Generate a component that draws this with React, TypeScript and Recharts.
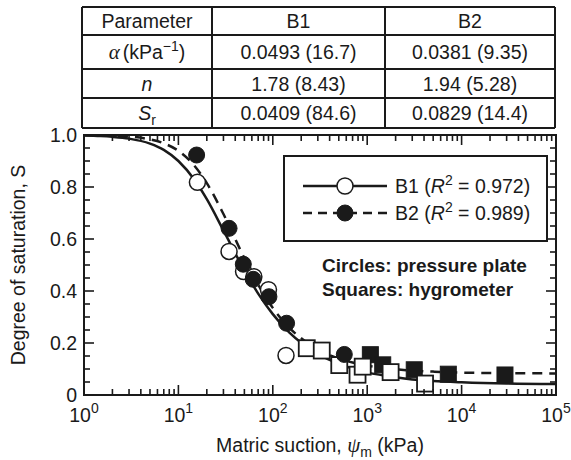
import { ComposedChart, Line, Scatter, XAxis, YAxis, ReferenceArea } from 'recharts';

// van Genuchten fits (psi in kPa -> S)
const curvePsi = [1, 1.5, 2, 3, 5, 7, 10, 15, 20, 30, 50, 70, 100, 150, 200, 300, 500, 700, 1000, 2000, 3000, 5000, 10000, 30000, 100000];
const b1CurveS = [0.998, 0.996, 0.993, 0.986, 0.967, 0.943, 0.9, 0.825, 0.753, 0.633, 0.479, 0.39, 0.311, 0.24, 0.201, 0.158, 0.12, 0.102, 0.087, 0.068, 0.06, 0.054, 0.049, 0.044, 0.042];
const b2CurveS = [0.999, 0.998, 0.997, 0.994, 0.983, 0.968, 0.939, 0.879, 0.815, 0.696, 0.526, 0.424, 0.335, 0.258, 0.218, 0.175, 0.14, 0.125, 0.113, 0.099, 0.094, 0.09, 0.086, 0.084, 0.083];

// pressure plate (circles)
const b1CirclePsi = [15.9, 34.4, 49, 63, 90, 138];
const b1CircleS = [0.818, 0.552, 0.475, 0.455, 0.405, 0.152];
const b2CirclePsi = [15.6, 34.4, 48.7, 62, 91, 140, 572];
const b2CircleS = [0.923, 0.641, 0.503, 0.445, 0.378, 0.276, 0.156];

// hygrometer (squares)
const b1SquarePsi = [229, 330, 506, 790, 896, 1770, 4100];
const b1SquareS = [0.18, 0.171, 0.115, 0.078, 0.109, 0.088, 0.044];
const b2SquarePsi = [1080, 1460, 3150, 7230, 28800];
const b2SquareS = [0.155, 0.116, 0.097, 0.08, 0.077];

// legend / table
const seriesNames = ['B1', 'B2'];
const rSquared = ['0.972', '0.989'];
const tableHeader = ['Parameter', 'B1', 'B2'];
const paramNames = ['alpha', 'n', 'Sr'];
const b1Params = ['0.0493 (16.7)', '1.78 (8.43)', '0.0409 (84.6)'];
const b2Params = ['0.0381 (9.35)', '1.94 (5.28)', '0.0829 (14.4)'];

const xMajorTicks = [1, 10, 100, 1000, 10000, 100000];
const yLabelTicks = [0, 0.2, 0.4, 0.6, 0.8, 1];

const xTicks = xMajorTicks.flatMap((d, i) =>
  i === xMajorTicks.length - 1 ? [d] : [1, 2, 3, 4, 5, 6, 7, 8, 9].map((k) => k * d)
);
const yTicks = Array.from({ length: 21 }, (_, i) => i / 20);

const toPoints = (xs: number[], ys: number[]) => xs.map((psi, i) => ({ psi, s: ys[i] }));

const b1Curve = toPoints(curvePsi, b1CurveS);
const b2Curve = toPoints(curvePsi, b2CurveS);
const b1Circles = toPoints(b1CirclePsi, b1CircleS);
const b2Circles = toPoints(b2CirclePsi, b2CircleS);
const b1Squares = toPoints(b1SquarePsi, b1SquareS);
const b2Squares = toPoints(b2SquarePsi, b2SquareS);

const INK = '#1a1a1a';
const FONT = '"Liberation Sans", Arial, sans-serif';
const SERIF = '"Liberation Serif", "Times New Roman", serif';
const FS = 19.5; // main text size
const SUP = 14;

const W = 571;
const H = 460;
const PLOT_LEFT = 84;
const PLOT_TOP = 135;
const PLOT_RIGHT = 556;
const PLOT_BOTTOM = 395;

const XTick = (props: any) => {
  const { x, payload } = props;
  const lg = Math.log10(payload.value);
  const exp = Math.round(lg);
  const major = Math.abs(lg - exp) < 1e-6;
  const len = major ? 10 : 6;
  return (
    <g>
      <line x1={x} x2={x} y1={PLOT_BOTTOM} y2={PLOT_BOTTOM - len} stroke={INK} strokeWidth={1.6} />
      <line x1={x} x2={x} y1={PLOT_TOP} y2={PLOT_TOP + len} stroke={INK} strokeWidth={1.6} />
      {major && (
        <text x={x} y={422} textAnchor="middle" fontSize={FS} fill={INK} fontFamily={FONT}>
          10<tspan dy={-9} fontSize={SUP}>{exp}</tspan>
        </text>
      )}
    </g>
  );
};

const YTick = (props: any) => {
  const { y, payload } = props;
  const v = payload.value;
  const major = Math.round(v * 100) % 20 === 0;
  const len = major ? 10 : 6;
  const label = yLabelTicks.find((t) => Math.abs(t - v) < 1e-6);
  return (
    <g>
      <line x1={PLOT_LEFT} x2={PLOT_LEFT + len} y1={y} y2={y} stroke={INK} strokeWidth={1.6} />
      <line x1={PLOT_RIGHT} x2={PLOT_RIGHT - len} y1={y} y2={y} stroke={INK} strokeWidth={1.6} />
      {label !== undefined && (
        <text x={PLOT_LEFT - 7} y={y + 7} textAnchor="end" fontSize={FS} fill={INK} fontFamily={FONT}>
          {label === 0 ? '0' : label.toFixed(1)}
        </text>
      )}
    </g>
  );
};

const OpenCircle = (p: any) => <circle cx={p.cx} cy={p.cy} r={8} fill="#fff" stroke={INK} strokeWidth={1.5} />;
const FilledCircle = (p: any) => <circle cx={p.cx} cy={p.cy} r={8} fill={INK} stroke={INK} strokeWidth={1} />;
const OpenSquare = (p: any) => (
  <rect x={p.cx - 8} y={p.cy - 8} width={16} height={16} fill="#fff" stroke={INK} strokeWidth={1.8} />
);
const FilledSquare = (p: any) => (
  <rect x={p.cx - 8} y={p.cy - 8} width={16} height={16} fill={INK} stroke={INK} strokeWidth={1} />
);

function ParamLabel({ name, x, y }: { name: string; x: number; y: number }) {
  if (name === 'alpha') {
    return (
      <text x={x} y={y} textAnchor="middle" fontSize={FS} fill={INK} fontFamily={FONT}>
        <tspan fontFamily={SERIF} fontStyle="italic" fontSize={21}>α</tspan>
        <tspan dx={3}>(kPa</tspan>
        <tspan dy={-8} fontSize={SUP}>−1</tspan>
        <tspan dy={8}>)</tspan>
      </text>
    );
  }
  if (name === 'n') {
    return (
      <text x={x} y={y} textAnchor="middle" fontSize={FS} fill={INK} fontFamily={FONT} fontStyle="italic">
        n
      </text>
    );
  }
  return (
    <text x={x} y={y} textAnchor="middle" fontSize={FS} fill={INK} fontFamily={FONT}>
      <tspan fontStyle="italic">S</tspan>
      <tspan dy={5} fontSize={SUP}>r</tspan>
    </text>
  );
}

function Overlay() {
  const colX = [82, 212, 385, 555];
  const rowY = [7, 35, 69, 98, 128];
  const cx = (i: number) => (colX[i] + colX[i + 1]) / 2;
  const cy = (i: number) => (rowY[i] + rowY[i + 1]) / 2 + 7;
  const legendRows = [186, 213];

  return (
    <svg width={W} height={H} style={{ position: 'absolute', left: 0, top: 0, pointerEvents: 'none' }}>
      {/* parameter table */}
      <g stroke={INK} strokeWidth={2}>
        {rowY.map((y) => (
          <line key={'r' + y} x1={colX[0]} x2={colX[3]} y1={y} y2={y} />
        ))}
        {colX.map((x) => (
          <line key={'c' + x} x1={x} x2={x} y1={rowY[0]} y2={rowY[4]} />
        ))}
      </g>
      {tableHeader.map((h, i) => (
        <text key={h} x={cx(i)} y={cy(0)} textAnchor="middle" fontSize={FS} fill={INK} fontFamily={FONT}>
          {h}
        </text>
      ))}
      {paramNames.map((name, r) => (
        <g key={name}>
          <ParamLabel name={name} x={cx(0)} y={cy(r + 1)} />
          <text x={cx(1)} y={cy(r + 1)} textAnchor="middle" fontSize={FS} fill={INK} fontFamily={FONT}>
            {b1Params[r]}
          </text>
          <text x={cx(2)} y={cy(r + 1)} textAnchor="middle" fontSize={FS} fill={INK} fontFamily={FONT}>
            {b2Params[r]}
          </text>
        </g>
      ))}

      {/* legend */}
      <rect x={284} y={156} width={263} height={85} fill="#fff" stroke={INK} strokeWidth={2} />
      {seriesNames.map((name, i) => {
        const y = legendRows[i];
        return (
          <g key={name}>
            <line
              x1={303}
              x2={387}
              y1={y}
              y2={y}
              stroke={INK}
              strokeWidth={2.5}
              strokeDasharray={i === 1 ? '9 6' : undefined}
            />
            {i === 0 ? <OpenCircle cx={345} cy={y} /> : <FilledCircle cx={345} cy={y} />}
            <text x={395} y={y + 7} fontSize={FS} fill={INK} fontFamily={FONT}>
              {name} (<tspan fontStyle="italic">R</tspan>
              <tspan dy={-8} fontSize={SUP}>2</tspan>
              <tspan dy={8}> = {rSquared[i]})</tspan>
            </text>
          </g>
        );
      })}
      <text x={322} y={272} fontSize={19} fontWeight="bold" fill={INK} fontFamily={FONT}>
        Circles: pressure plate
      </text>
      <text x={322} y={296} fontSize={19} fontWeight="bold" fill={INK} fontFamily={FONT}>
        Squares: hygrometer
      </text>

      {/* axis titles */}
      <text x={(PLOT_LEFT + PLOT_RIGHT) / 2} y={452} textAnchor="middle" fontSize={FS} fill={INK} fontFamily={FONT}>
        Matric suction, <tspan fontFamily={SERIF} fontStyle="italic" fontSize={21}>ψ</tspan>
        <tspan dy={5} fontSize={SUP}>m</tspan>
        <tspan dy={-5}> (kPa)</tspan>
      </text>
      <text
        x={25}
        y={(PLOT_TOP + PLOT_BOTTOM) / 2}
        textAnchor="middle"
        fontSize={FS}
        fill={INK}
        fontFamily={FONT}
        transform={`rotate(-90 25 ${(PLOT_TOP + PLOT_BOTTOM) / 2})`}
      >
        Degree of saturation, S
      </text>
    </svg>
  );
}

export default function App() {
  return (
    <div style={{ position: 'fixed', left: 0, top: 0, width: W, height: H, background: '#fff' }}>
      <ComposedChart
        width={W}
        height={H}
        margin={{ top: PLOT_TOP, right: W - PLOT_RIGHT, left: 0, bottom: 0 }}
      >
        <XAxis
          dataKey="psi"
          type="number"
          scale="log"
          domain={[1, 100000]}
          allowDataOverflow
          ticks={xTicks}
          interval={0}
          tick={<XTick />}
          tickLine={false}
          axisLine={false}
          height={H - PLOT_BOTTOM}
        />
        <YAxis
          dataKey="s"
          type="number"
          domain={[0, 1]}
          allowDataOverflow
          ticks={yTicks}
          interval={0}
          tick={<YTick />}
          tickLine={false}
          axisLine={false}
          width={PLOT_LEFT}
        />
        <Line data={b1Curve} dataKey="s" type="monotone" stroke={INK} strokeWidth={2.5} dot={false} isAnimationActive={false} />
        <Line
          data={b2Curve}
          dataKey="s"
          type="monotone"
          stroke={INK}
          strokeWidth={2.5}
          strokeDasharray="10 7"
          dot={false}
          isAnimationActive={false}
        />
        <Scatter data={b2Squares} dataKey="s" shape={FilledSquare} isAnimationActive={false} />
        <Scatter data={b1Squares} dataKey="s" shape={OpenSquare} isAnimationActive={false} />
        <Scatter data={b1Circles} dataKey="s" shape={OpenCircle} isAnimationActive={false} />
        <Scatter data={b2Circles} dataKey="s" shape={FilledCircle} isAnimationActive={false} />
        <ReferenceArea x1={1} x2={100000} y1={0} y2={1} fill="none" stroke={INK} strokeWidth={2} ifOverflow="visible" />
      </ComposedChart>
      <Overlay />
    </div>
  );
}
